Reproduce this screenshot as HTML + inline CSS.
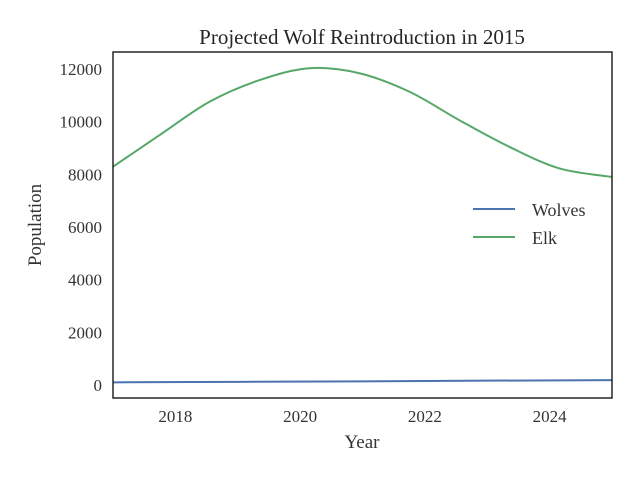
<!DOCTYPE html>
<html><head><meta charset="utf-8"><style>
body{margin:0;background:#fff;}
svg text{font-family:"Liberation Serif",serif;fill:#333;}
</style></head><body>
<svg id="chart" width="640" height="480">
<text x="362" y="44" font-size="21" text-anchor="middle" style="fill:#262626">Projected Wolf Reintroduction in 2015</text>
<g id="yticks"></g><g id="xticks"></g>
<g id="series"></g>
<rect x="113" y="52" width="499" height="346" fill="none" stroke="#262626" stroke-width="1.5"/>
<text x="362" y="448" font-size="19" text-anchor="middle">Year</text>
<text transform="translate(41,225) rotate(-90)" font-size="19" text-anchor="middle">Population</text>
<g>
<line x1="473" y1="209" x2="515" y2="209" stroke="#4c72b0" stroke-width="2"/>
<text x="532" y="216" font-size="18">Wolves</text>
<line x1="473" y1="237" x2="515" y2="237" stroke="#55a868" stroke-width="2"/>
<text x="532" y="244" font-size="18">Elk</text>
</g>
</svg>
<script>
const elkYears=[2017,2017.75,2018.55,2019.35,2020.15,2020.95,2021.75,2022.55,2023.35,2024.15,2025];
const elkValues=[8290,9495,10760,11580,12030,11840,11140,10060,9050,8230,7900];
const wolfYears=[2017,2019,2021,2023,2025];
const wolfValues=[100,120,140,165,185];
const yTicks=[0,2000,4000,6000,8000,10000,12000];
const xTicks=[2018,2020,2022,2024];
const NS="http://www.w3.org/2000/svg";
function xs(v){return 113+(v-2017)*62.375;}
function ys(v){return 385-v*0.026333;}
const yt=document.getElementById('yticks');
yTicks.forEach(t=>{const e=document.createElementNS(NS,'text');
e.setAttribute('x',102);e.setAttribute('y',ys(t)+6);e.setAttribute('font-size','17');e.setAttribute('text-anchor','end');


e.textContent=t;yt.appendChild(e);});
const xt=document.getElementById('xticks');
xTicks.forEach(t=>{const e=document.createElementNS(NS,'text');
e.setAttribute('x',xs(t));e.setAttribute('y',422);e.setAttribute('font-size','17');e.setAttribute('text-anchor','middle');


e.textContent=t;xt.appendChild(e);});
function path(X,Y){const p=X.map((x,i)=>[xs(x),ys(Y[i])]);let d='M'+p[0][0]+','+p[0][1];
for(let i=0;i<p.length-1;i++){const p0=p[Math.max(0,i-1)],p1=p[i],p2=p[i+1],p3=p[Math.min(p.length-1,i+2)];
d+=' C'+(p1[0]+(p2[0]-p0[0])/6)+','+(p1[1]+(p2[1]-p0[1])/6)+' '+(p2[0]-(p3[0]-p1[0])/6)+','+(p2[1]-(p3[1]-p1[1])/6)+' '+p2[0]+','+p2[1];}
return d;}
const s=document.getElementById('series');
const w=document.createElementNS(NS,'path');w.setAttribute('d',path(wolfYears,wolfValues));w.setAttribute('fill','none');w.setAttribute('stroke','#4c72b0');w.setAttribute('stroke-width','2');


s.appendChild(w);
const el=document.createElementNS(NS,'path');el.setAttribute('d',path(elkYears,elkValues));el.setAttribute('fill','none');el.setAttribute('stroke','#55a868');el.setAttribute('stroke-width','2');


s.appendChild(el);
</script>
</body></html>
